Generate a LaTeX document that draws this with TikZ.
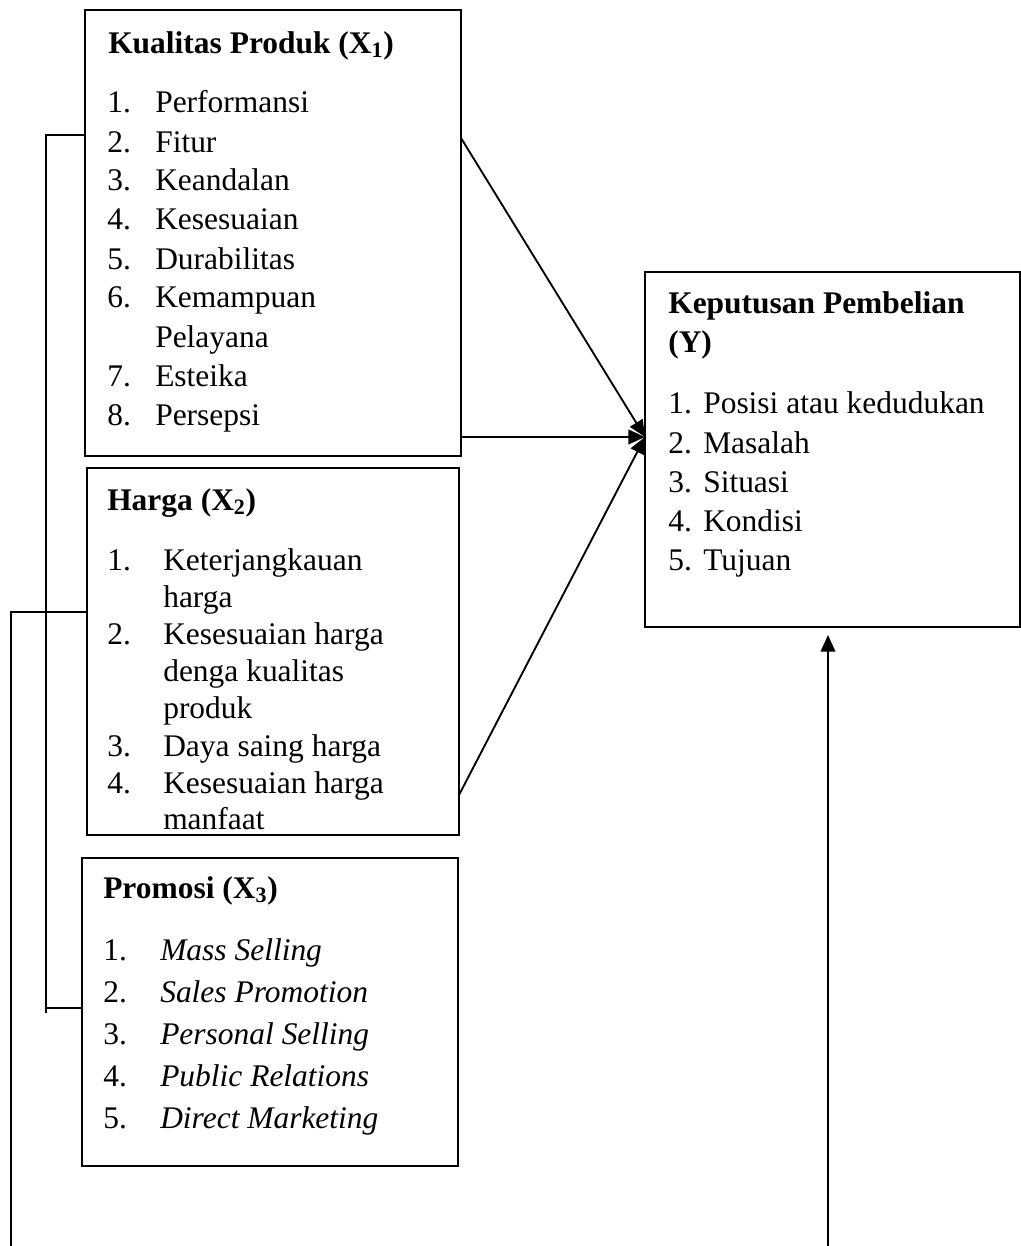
\documentclass[tikz,border=0pt]{standalone}
\usepackage{fontspec}
\setmainfont{Liberation Serif}
\usetikzlibrary{arrows.meta,calc}
\begin{document}
\begin{tikzpicture}[x=0.75pt,y=-0.75pt,
  box/.style={draw,line width=1.6pt,anchor=north west,inner sep=0,outer sep=0},
  txt/.style={anchor=base west,inner sep=0,font=\fontsize{23.6}{28}\selectfont},
  ttl/.style={txt,font=\fontsize{23.6}{28}\selectfont\bfseries},
  conn/.style={line width=1.4pt},
  arr/.style={conn,-{Triangle[length=12.5pt,width=11pt]}}]
\useasboundingbox (0,0) rectangle (1021,1246);
% boxes
\node[box,minimum width=282pt,minimum height=334.5pt] (x1) at (85,10) {};
\node[box,minimum width=279pt,minimum height=275pt] (x2) at (87,468) {};
\node[box,minimum width=282pt,minimum height=231pt] (x3) at (82,858) {};
\node[box,minimum width=281.25pt,minimum height=266.25pt] (y) at (645,272) {};
% X1 text
\node[ttl] (x1t) at (108,53) {Kualitas Produk (X\textsubscript{1})};
\node[txt] (x1n1) at (107,112) {1.}; \node[txt] (x1i1) at (155,112) {Performansi};
\node[txt] (x1n2) at (107,152) {2.}; \node[txt] (x1i2) at (155,152) {Fitur};
\node[txt] (x1n3) at (107,190) {3.}; \node[txt] (x1i3) at (155,190) {Keandalan};
\node[txt] (x1n4) at (107,229) {4.}; \node[txt] (x1i4) at (155,229) {Kesesuaian};
\node[txt] (x1n5) at (107,269) {5.}; \node[txt] (x1i5) at (155,269) {Durabilitas};
\node[txt] (x1n6) at (107,307) {6.}; \node[txt] (x1i6) at (155,307) {Kemampuan};
\node[txt] (x1i6b) at (155,347) {Pelayana};
\node[txt] (x1n7) at (107,386) {7.}; \node[txt] (x1i7) at (155,386) {Esteika};
\node[txt] (x1n8) at (107,425) {8.}; \node[txt] (x1i8) at (155,425) {Persepsi};
% X2 text
\node[ttl] (x2t) at (107,510) {Harga (X\textsubscript{2})};
\node[txt] (x2n1) at (107,570) {1.}; \node[txt] (x2i1) at (163,570) {Keterjangkauan};
\node[txt] (x2i1b) at (163,607) {harga};
\node[txt] (x2n2) at (107,644) {2.}; \node[txt] (x2i2) at (163,644) {Kesesuaian harga};
\node[txt] (x2i2b) at (163,681) {denga kualitas};
\node[txt] (x2i2c) at (163,718) {produk};
\node[txt] (x2n3) at (107,756) {3.}; \node[txt] (x2i3) at (163,756) {Daya saing harga};
\node[txt] (x2n4) at (107,793) {4.}; \node[txt] (x2i4) at (163,793) {Kesesuaian harga};
\node[txt] (x2i4b) at (163,829) {manfaat};
% X3 text
\node[ttl] (x3t) at (103,898) {Promosi (X\textsubscript{3})};
\node[txt] (x3n1) at (103,960) {1.}; \node[txt] (x3i1) at (160,960) {\itshape Mass Selling};
\node[txt] (x3n2) at (103,1002) {2.}; \node[txt] (x3i2) at (160,1002) {\itshape Sales Promotion};
\node[txt] (x3n3) at (103,1044) {3.}; \node[txt] (x3i3) at (160,1044) {\itshape Personal Selling};
\node[txt] (x3n4) at (103,1086) {4.}; \node[txt] (x3i4) at (160,1086) {\itshape Public Relations};
\node[txt] (x3n5) at (103,1128) {5.}; \node[txt] (x3i5) at (160,1128) {\itshape Direct Marketing};
% Y text
\node[ttl] (yt) at (668,313) {Keputusan Pembelian};
\node[ttl] (yt2) at (668,352) {(Y)};
\node[txt] (yn1) at (668,413) {1.}; \node[txt] (yi1) at (703,413) {Posisi atau kedudukan};
\node[txt] (yn2) at (668,453) {2.}; \node[txt] (yi2) at (703,453) {Masalah};
\node[txt] (yn3) at (668,492) {3.}; \node[txt] (yi3) at (703,492) {Situasi};
\node[txt] (yn4) at (668,531) {4.}; \node[txt] (yi4) at (703,531) {Kondisi};
\node[txt] (yn5) at (668,570) {5.}; \node[txt] (yi5) at (703,570) {Tujuan};
% connector points
\coordinate (yin) at ($(y.north west)+(0,165)$);
\coordinate (x1a) at ($(x1.north east)+(0,128)$);
\coordinate (x1b) at ($(x1.north east)+(0,427)$);
\coordinate (x2a) at ($(x2.north east)+(0,327)$);
\coordinate (x1l) at ($(x1.north west)+(0,125)$);
\coordinate (x2l) at ($(x2.north west)+(0,144)$);
\coordinate (x3l) at ($(x3.north west)+(0,150)$);
\coordinate (ybot) at ($(y.south west)+(183,0)$);
\coordinate (ic1) at (46,135);
\coordinate (ic2) at (46,1013);
\coordinate (ic3) at (46,1008);
\coordinate (oc1) at (11,612);
\coordinate (oc2) at (11,1246);
\coordinate (rc) at (828,1246);
% arrows to Y
\draw[arr] (x1a) -- (yin);
\draw[arr] (x1b) -- (x1b -| yin);
\draw[arr] (x2a) -- (yin);
% brackets
\draw[conn] (x1l) -- (ic1) -- (ic2);
\draw[conn] (ic3) -- (x3l);
\draw[conn] (x2l) -- (oc1) -- (oc2);
\draw[arr] (rc) -- ($(ybot)+(0,8)$);
\end{tikzpicture}
\end{document}
